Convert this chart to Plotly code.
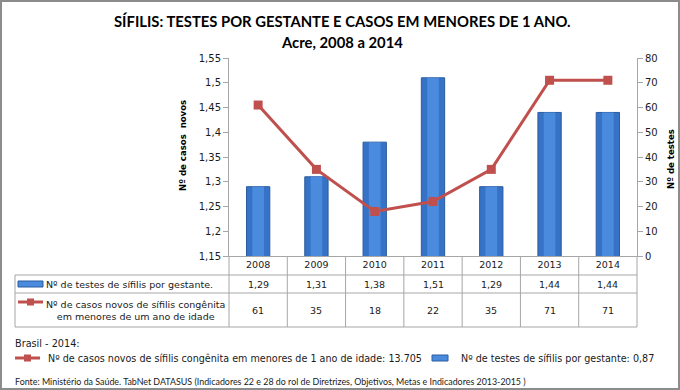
import plotly.graph_objects as go

years = ["2008", "2009", "2010", "2011", "2012", "2013", "2014"]
tests_per_pregnant = [1.29, 1.31, 1.38, 1.51, 1.29, 1.44, 1.44]
cases_under1 = [61, 35, 18, 22, 35, 71, 71]
tests_label = "Nº de testes de sífilis por gestante."
cases_label_1 = "Nº de casos novos de sífilis congênita"
cases_label_2 = "em menores de um ano de idade"
brasil_cases = "13.705"
brasil_tests = "0,87"

W, H = 680, 390
L, R, T, B = 229, 637, 58, 256
pw, ph = R - L, B - T

def px(x):
    return (x - L) / pw

def py(y):
    return (B - y) / ph

BLUE = "#3672C6"
BLUE_HI = "#4A8BDE"
BLUE_EDGE = "#2A5C9E"
RED = "#C0504D"
GRID = "#A6A6A6"
FONT = "DejaVu Sans, sans-serif"
FONTC = "DejaVu Sans Condensed, DejaVu Sans, sans-serif"
TXT = "#1a1a1a"

fig = go.Figure()
fig.add_trace(go.Bar(x=years, y=tests_per_pregnant, width=0.4,
                     marker=dict(color=BLUE, line=dict(color=BLUE_EDGE, width=1)),
                     name=tests_label, showlegend=False))
fig.add_trace(go.Bar(x=years, y=tests_per_pregnant, width=0.2,
                     marker=dict(color=BLUE_HI, line=dict(width=0)),
                     hoverinfo="skip", showlegend=False))
fig.add_trace(go.Scatter(x=years, y=cases_under1, yaxis="y2", mode="lines+markers",
                         line=dict(color=RED, width=3),
                         marker=dict(symbol="square", size=9, color=RED),
                         name=cases_label_1, showlegend=False))

shapes = []
ann = []

def text(t, x, y, size=9, family=FONT, xanchor="center", xref="paper", **kw):
    d = dict(text=t, xref=xref, yref="paper", x=x, y=y, xanchor=xanchor,
             yanchor="middle", showarrow=False,
             font=dict(family=family, size=size, color=kw.pop("color", TXT)))
    d.update(kw)
    ann.append(d)

# outer frame
shapes.append(dict(type="rect", xref="paper", yref="paper",
                   x0=px(1), x1=px(679), y0=py(1), y1=py(389),
                   line=dict(color="#8C8C8C", width=2)))

# table lines
for yy in (275, 293, 327):
    shapes.append(dict(type="line", xref="paper", yref="paper",
                       x0=px(15), x1=px(R), y0=py(yy), y1=py(yy),
                       line=dict(color=GRID, width=1)))
shapes.append(dict(type="line", xref="paper", yref="paper",
                   x0=px(15), x1=px(15), y0=py(275), y1=py(327),
                   line=dict(color=GRID, width=1)))
n = len(years)
for i in range(n + 1):
    xx = L + pw * i / n
    shapes.append(dict(type="line", xref="paper", yref="paper",
                       x0=px(xx), x1=px(xx), y0=py(B), y1=py(327),
                       line=dict(color=GRID, width=1)))

# legend icons in table
shapes.append(dict(type="rect", xref="paper", yref="paper",
                   x0=px(18), x1=px(43), y0=py(281), y1=py(287),
                   fillcolor=BLUE_HI, line=dict(color=BLUE_EDGE, width=1)))
shapes.append(dict(type="line", xref="paper", yref="paper",
                   x0=px(18), x1=px(43), y0=py(302), y1=py(302),
                   line=dict(color=RED, width=3)))
shapes.append(dict(type="rect", xref="paper", yref="paper",
                   x0=px(27), x1=px(34), y0=py(298.5), y1=py(305.5),
                   fillcolor=RED, line=dict(color=RED, width=0)))

# footer legend icons
shapes.append(dict(type="line", xref="paper", yref="paper",
                   x0=px(15), x1=px(40), y0=py(358), y1=py(358),
                   line=dict(color=RED, width=3)))
shapes.append(dict(type="rect", xref="paper", yref="paper",
                   x0=px(24), x1=px(31), y0=py(354.5), y1=py(361.5),
                   fillcolor=RED, line=dict(color=RED, width=0)))
shapes.append(dict(type="rect", xref="paper", yref="paper",
                   x0=px(432), x1=px(448), y0=py(355), y1=py(361),
                   fillcolor=BLUE_HI, line=dict(color=BLUE_EDGE, width=1)))

# title
text("<b>SÍFILIS: TESTES POR GESTANTE E CASOS EM MENORES DE 1 ANO.</b>", px(342), py(21),
     size=14.8, family="Lato, sans-serif", color="#000")
text("<b>Acre, 2008 a 2014</b>", px(342), py(42), size=14.8, family="Lato, sans-serif", color="#000")

# axis titles
text("<b>Nº de casos  novos</b>", px(182), py(146), size=9.5, family=FONTC, color="#000", textangle=-90)
text("<b>Nº de testes</b>", px(670), py(159), size=9.5, family=FONTC, color="#000", textangle=-90)

# table labels
text(tests_label, px(44), py(284), xanchor="left", size=9.5)
text(cases_label_1 + "<br>" + cases_label_2, px(135), py(310), align="center", size=9.5)

# table values
for i, (v1, v2) in enumerate(zip(tests_per_pregnant, cases_under1)):
    text(f"{v1:.2f}".replace(".", ","), i, py(284), xref="x", size=9.5)
    text(str(v2), i, py(310), xref="x", size=9.5)

# footer
text("Brasil - 2014:", px(13), py(343), xanchor="left", size=9.7)
text("Nº de casos novos de sífilis congênita em menores de 1 ano de idade: " + brasil_cases,
     px(46), py(358), xanchor="left", size=9.6)
text("Nº de testes de sífilis por gestante: " + brasil_tests, px(459), py(358), xanchor="left", size=9.6)
text("Fonte: Ministério da Saúde. TabNet DATASUS (Indicadores 22 e 28 do rol de Diretrizes, Objetivos, Metas e Indicadores 2013-2015 )",
     px(13), py(381), xanchor="left", size=8.9, family="Lato, sans-serif")

fig.update_layout(
    width=W, height=H,
    margin=dict(l=L, r=W - R, t=T, b=H - B, pad=0),
    paper_bgcolor="white", plot_bgcolor="white",
    separators=",.",
    barmode="overlay",
    showlegend=False,
    xaxis=dict(type="category", range=[-0.5, n - 0.5], showgrid=False, showline=True,
               linecolor=GRID, linewidth=1, ticks="", automargin=False,
               tickfont=dict(family=FONT, size=9.5, color=TXT), zeroline=False),
    yaxis=dict(range=[1.15, 1.55], dtick=0.05, tick0=1.15, showgrid=False, showline=True,
               linecolor=GRID, linewidth=1, ticks="outside", ticklen=5, tickcolor=GRID,
               automargin=False,
               tickfont=dict(family=FONT, size=10, color=TXT), zeroline=False),
    yaxis2=dict(range=[0, 80], dtick=10, overlaying="y", side="right", showgrid=False,
                showline=True, linecolor=GRID, linewidth=1, ticks="outside", ticklen=5,
                tickcolor=GRID, automargin=False,
                tickfont=dict(family=FONT, size=10, color=TXT), zeroline=False),
    shapes=shapes, annotations=ann,
)

fig.write_html("out.html", config={"displayModeBar": False},
               post_script="document.body.style.margin='0';")
